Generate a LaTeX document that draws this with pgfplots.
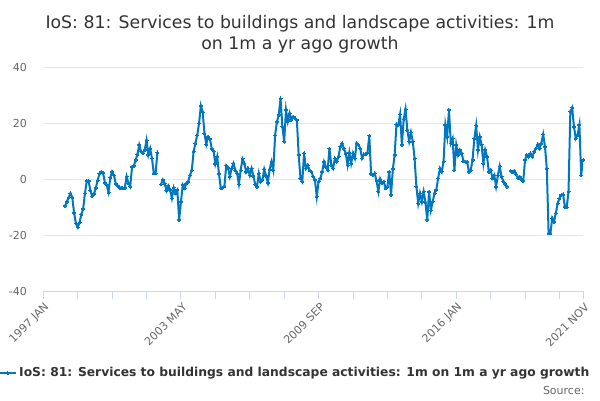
\documentclass[border=0pt]{standalone}
\usepackage{pgfplots}
\usepackage{pgfplotstable}
\pgfplotsset{compat=1.18}
\usepackage{fontspec}
\setmainfont{DejaVu Sans}
\definecolor{serie}{HTML}{0077BE}
\definecolor{gridc}{HTML}{E6E6E6}
\definecolor{axisc}{HTML}{CCD6EB}
\definecolor{labc}{HTML}{666666}
\definecolor{titc}{HTML}{333333}
\pgfplotstableread{
m v
12 -9.5
13 -8
14 -6.5
15 -5
16 -6.5
17 -12
18 -15.7
19 -17.1
20 -15.5
21 -12.5
22 -10.5
23 -5
24 -0.6
25 -0.6
26 -4
27 -6
28 -5.2
29 -3
30 -0.5
31 2
32 2.7
33 2.3
34 -1.2
35 -2
36 -4.6
37 0.6
38 2.7
39 1.5
40 -1.5
41 -2.2
42 -3
43 -3
44 -3.2
45 -3
46 1
47 -1.4
48 -2.6
49 4.5
50 4.8
51 6.9
52 9
53 12.3
54 9.9
55 9.3
56 10.5
57 14
58 8.7
59 11
60 7.5
61 2.1
62 2.1
63 9.6
64 nan
65 -1.8
66 -0.2
67 -1.5
68 -4
69 -2.3
70 -3.8
71 -6.8
72 -3
73 -5
74 -3.8
75 -14.5
76 -8
77 -2
78 -3.2
79 -1.4
80 -0.8
81 1.5
82 3.3
83 9.9
84 12.9
85 15.8
86 20
87 26.3
88 24
89 16.4
90 12.5
91 15.2
92 14.4
93 11
94 10.1
95 5.5
96 8.1
97 1.9
98 -3.2
99 -3
100 -2.5
101 4.9
102 4.2
103 1
104 3.9
105 5.7
106 3.3
107 2.1
108 -1.7
109 3.3
110 7.3
111 5.7
112 2.7
113 3.9
114 1.5
115 3.9
116 1.2
117 -1.8
118 -2.6
119 2.1
120 -0.8
121 -0.2
122 3.6
123 1.2
124 -1.2
125 3.6
126 6.3
127 3.3
128 15.8
129 20.6
130 23
131 28.9
132 18.8
133 13.5
134 24.8
135 20.6
136 23.6
137 21.2
138 22.4
139 21.8
140 21.2
141 8.7
142 0.4
143 -0.8
144 9.3
145 3.9
146 5.1
147 3.3
148 2.7
149 1
150 -0.2
151 -6.2
152 -0.8
153 0.4
154 2.7
155 6.3
156 4.5
157 3.3
158 11
159 5.1
160 3.9
161 7.5
162 6.3
163 8.1
164 11.7
165 12.9
166 11
167 9.3
168 5.1
169 9.6
170 5.7
171 9.3
172 7.5
173 12.9
174 12.3
175 11
176 7.5
177 8.9
178 8.9
179 9.6
180 15.6
181 1.9
182 1.5
183 2.1
184 -0.6
185 -4.4
186 0.1
187 -1.4
188 -0.8
189 -3.2
190 -2.6
191 2.7
192 -5.6
193 3.7
194 8.7
195 19.6
196 19.4
197 23.2
198 12.3
199 21.5
200 25.1
201 17.6
202 13.5
203 16.8
204 13.5
205 7.5
206 -2.6
207 -8.6
208 -5
209 -8
210 -4.4
211 -8.2
212 -14.5
213 -4.4
214 -11
215 -8
216 -5
217 -3.8
218 0.4
219 3.9
220 2.7
221 6.3
222 19.4
223 15.2
224 24.8
225 12.9
226 14.6
227 3.3
228 12.3
229 8.7
230 10.5
231 9.3
232 6.5
233 6.3
234 6.3
235 2.7
236 3.3
237 6.9
238 14.6
239 19.2
240 10.5
241 15.2
242 12.3
243 5.7
244 10.5
245 8.1
246 2.7
247 3.3
248 0.4
249 1.5
250 -2.6
251 1.5
252 4.7
253 1
254 -0.7
255 -1.6
256 -2.6
257 nan
258 3
259 2.5
260 3
261 1.8
262 0.4
263 1
264 0.1
265 -0.6
266 6.9
267 8.7
268 8.1
269 9.3
270 8.1
271 9.9
272 11
273 12.5
274 11
275 12.9
276 16.1
277 11.7
278 3.9
279 -19.3
280 -19.3
281 -13.9
282 -15.1
283 -12.1
284 -8.6
285 -6.8
286 -5.6
287 -5.4
288 -9.8
289 -10
290 -4.4
291 24.2
292 25.6
293 18.8
294 14.6
295 15.8
296 19.4
297 1.5
298 6.9
}\datatable
\begin{document}
\begin{tikzpicture}[x=1bp,y=1bp]
\path[use as bounding box] (0,0) rectangle (600,400);
\begin{axis}[
  at={(43.3bp,108.7bp)}, anchor=south west,
  scale only axis, width=539.7bp, height=224bp,
  xmin=0, xmax=298, ymin=-40, ymax=40,
  ytick={-40,-20,0,20,40},
  xtick={0,76,152,228,298},
  xticklabels={1997 JAN,2003 MAY,2009 SEP,2016 JAN,2021 NOV},
  minor xtick={19,38,57,95,114,133,171,190,209,247,266,285},
  axis x line*=bottom, axis y line*=left,
  x axis line style={draw=axisc, line width=1bp},
  y axis line style={draw=none},
  ytick style={draw=none},
  xtick style={draw=axisc, line width=1bp},
  minor x tick style={draw=axisc, line width=1bp},
  tick align=outside, major tick length=8bp, minor tick length=8bp,
  ymajorgrids, grid style={draw=gridc, line width=1bp},
  /pgf/number format/assume math mode=true,
  tick label style={font=\fontsize{11bp}{13bp}\selectfont, text=labc},
  yticklabel style={anchor=east, xshift=-5bp},
  xticklabel style={rotate=45, anchor=east, xshift=2bp, yshift=-7bp},
  unbounded coords=jump,
  legend style={at={(0.4659,-0.365)}, anchor=center, draw=none, fill=none,
    font=\bfseries\fontsize{12.3bp}{14bp}\selectfont, text=titc},
  legend cell align=left,
]
\addplot[color=serie, line width=2bp, mark=*, mark size=1.5bp, mark options={draw=serie, fill=serie, line width=0pt}] table[x=m, y=v] {\datatable};
\addlegendentry{IoS: 81: Services to buildings and landscape activities: 1m on 1m a yr ago growth}
\end{axis}
\node[anchor=base, text=titc, font=\fontsize{17.3bp}{21bp}\selectfont] at (300,372) {IoS: 81: Services to buildings and landscape activities: 1m};
\node[anchor=base, text=titc, font=\fontsize{17.3bp}{21bp}\selectfont] at (300,351) {on 1m a yr ago growth};
\node[anchor=base east, text=labc, font=\fontsize{11bp}{13bp}\selectfont] at (588,6) {Source:};
\end{tikzpicture}
\end{document}
